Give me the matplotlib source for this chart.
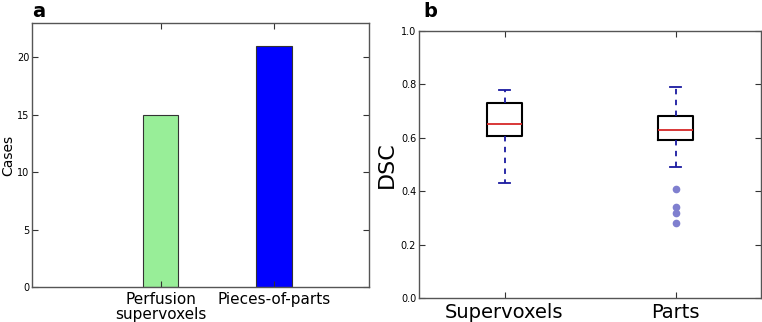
import matplotlib
matplotlib.use("Agg")
import matplotlib.pyplot as plt

# panel a: number of cases
methods = ["Perfusion\nsupervoxels", "Pieces-of-parts"]
cases = [15, 21]
bar_colors = ["#98ee98", "#0000ff"]

# panel b: DSC box statistics
box_labels = ["Supervoxels", "Parts"]
q1 = [0.605, 0.59]
med = [0.65, 0.63]
q3 = [0.73, 0.68]
wlo = [0.43, 0.49]
whi = [0.78, 0.79]
outliers = [[], [0.41, 0.34, 0.32, 0.28]]

fig = plt.figure(figsize=(7.62, 3.22), dpi=100)

# ---- a ----
ax1 = fig.add_axes([32 / 762, 1 - 287 / 322, 337 / 762, 264 / 322])
pos = [1, 2]
ax1.bar(pos, cases, width=0.31, color=bar_colors, edgecolor="#333333", linewidth=0.8)
ax1.set_xlim(-0.14, 2.84)
ax1.set_ylim(0, 23)
ax1.set_xticks(pos)
ax1.set_xticklabels(methods, fontsize=11, linespacing=1.05)
ax1.set_yticks([0, 5, 10, 15, 20])
ax1.tick_params(axis="y", labelsize=7, pad=2)
ax1.set_ylabel("Cases", fontsize=10)
ax1.yaxis.set_label_coords(-0.05, 0.5)
ax1.text(0.0, 1.023, "a", transform=ax1.transAxes, fontsize=14, fontweight="bold",
         va="baseline", ha="left")

# ---- b ----
ax2 = fig.add_axes([419 / 762, 1 - 298 / 322, 342 / 762, 267 / 322])
stats = []
for i in range(2):
    stats.append(dict(label=box_labels[i], q1=q1[i], med=med[i], q3=q3[i],
                      whislo=wlo[i], whishi=whi[i], fliers=outliers[i]))
ax2.bxp(stats, positions=[1, 2], widths=0.2, capwidths=0.07,
        boxprops=dict(color="black", linewidth=1.5),
        medianprops=dict(color="#d62728", linewidth=1.3),
        whiskerprops=dict(color="#1a1aa0", linestyle="--", linewidth=1.3, dashes=(3, 3)),
        capprops=dict(color="#1a1aa0", linewidth=1.3),
        flierprops=dict(marker="o", markerfacecolor="#7f7fcf", markeredgecolor="#7f7fcf",
                        markersize=4.5, linestyle="none"))
ax2.set_xlim(0.5, 2.5)
ax2.set_ylim(0, 1.0)
ax2.set_yticks([0.0, 0.2, 0.4, 0.6, 0.8, 1.0])
ax2.set_yticklabels(["0.0", "0.2", "0.4", "0.6", "0.8", "1.0"])
ax2.tick_params(axis="y", labelsize=7, pad=2)
ax2.tick_params(axis="x", labelsize=14)
ax2.set_ylabel("DSC", fontsize=16, labelpad=3)
ax2.text(0.012, 1.052, "b", transform=ax2.transAxes, fontsize=14, fontweight="bold",
         va="baseline", ha="left")

for ax in (ax1, ax2):
    for s in ax.spines.values():
        s.set_color("#555555")
        s.set_linewidth(1.0)
    ax.tick_params(direction="in", top=True, right=True, length=4, color="#333333")

fig.savefig("out.png", dpi=100)
